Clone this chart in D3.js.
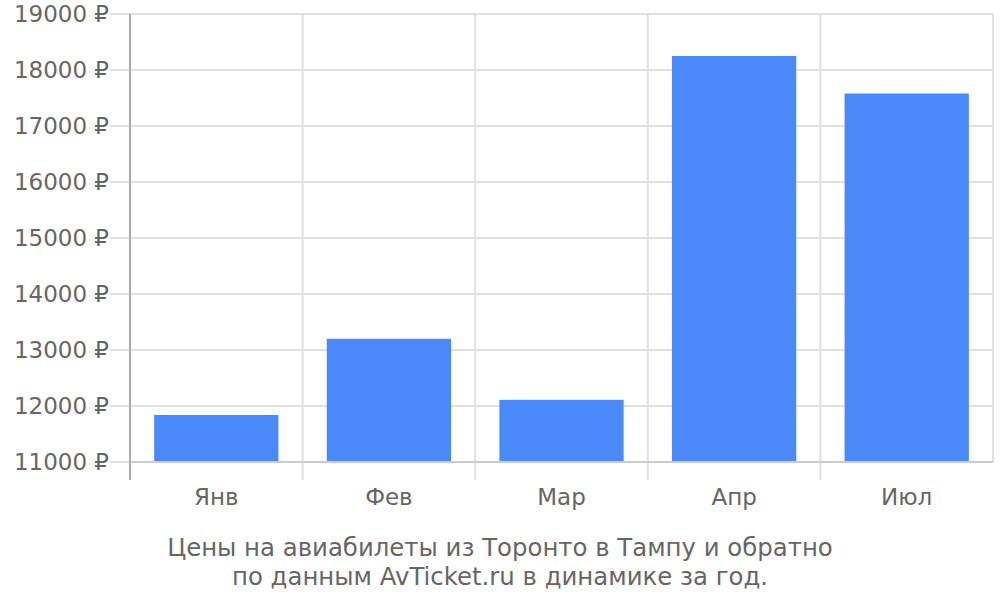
<!DOCTYPE html>
<html>
<head>
<meta charset="utf-8">
<script src="https://cdn.jsdelivr.net/npm/d3@7"></script>
<style>
  body { margin: 0; background: #fff; }
  text { font-family: "DejaVu Sans", sans-serif; fill: #666; }
</style>
</head>
<body>
<div id="chart"></div>
<script>
// Данные
var months = ["Янв", "Фев", "Мар", "Апр", "Июл"];
var prices = [11840, 13200, 12110, 18250, 17580];
var yTicks = [11000, 12000, 13000, 14000, 15000, 16000, 17000, 18000, 19000];
var titleLines = ["Цены на авиабилеты из Торонто в Тампу и обратно",
                  "по данным AvTicket.ru в динамике за год."];

var W = 1000, H = 600;
var plot = {left: 130, right: 993, top: 14, bottom: 462};

var svg = d3.select("#chart").append("svg")
  .attr("width", W).attr("height", H);

var x = d3.scaleBand()
  .domain(months)
  .range([plot.left, plot.right])
  .paddingInner(0.28)
  .paddingOuter(0.14);

var y = d3.scaleLinear()
  .domain([11000, 19000])
  .range([plot.bottom, plot.top]);

// горизонтальная сетка
svg.append("g")
  .selectAll("line")
  .data(yTicks)
  .enter().append("line")
    .attr("x1", plot.left - 20).attr("x2", plot.right)
    .attr("y1", function (d) { return y(d); })
    .attr("y2", function (d) { return y(d); })
    .attr("stroke", "#e0e0e0").attr("stroke-width", 2);

// вертикальные разделители категорий
var step = x.step();
var bounds = d3.range(months.length + 1).map(function (i) { return plot.left + i * step; });
svg.append("g")
  .selectAll("line")
  .data(bounds)
  .enter().append("line")
    .attr("x1", function (d) { return d; }).attr("x2", function (d) { return d; })
    .attr("y1", plot.top)
    .attr("y2", function (d, i) { return i === months.length ? plot.bottom : 480; })
    .attr("stroke", "#e0e0e0").attr("stroke-width", 2);

// столбцы
svg.append("g")
  .selectAll("rect")
  .data(prices)
  .enter().append("rect")
    .attr("x", function (d, i) { return x(months[i]); })
    .attr("width", x.bandwidth())
    .attr("y", function (d) { return y(d); })
    .attr("height", function (d) { return y(11000) - y(d); })
    .attr("fill", "#4b89fa");

// ось X
svg.append("line")
  .attr("x1", plot.left).attr("x2", plot.right)
  .attr("y1", plot.bottom).attr("y2", plot.bottom)
  .attr("stroke", "#cccccc").attr("stroke-width", 2);

// ось Y
svg.append("line")
  .attr("x1", plot.left).attr("x2", plot.left)
  .attr("y1", plot.top).attr("y2", 480)
  .attr("stroke", "#aaaaaa").attr("stroke-width", 2);

// подписи оси Y
svg.append("g")
  .selectAll("text")
  .data(yTicks)
  .enter().append("text")
    .attr("x", 109)
    .attr("y", function (d) { return y(d); })
    .attr("dy", "0.35em")
    .attr("text-anchor", "end")
    .style("font-size", "23px")
    .text(function (d) { return d + " ₽"; });

// подписи оси X
svg.append("g")
  .selectAll("text")
  .data(months)
  .enter().append("text")
    .attr("x", function (d) { return x(d) + x.bandwidth() / 2; })
    .attr("y", 497)
    .attr("dy", "0.35em")
    .attr("text-anchor", "middle")
    .style("font-size", "23px")
    .text(function (d) { return d; });

// заголовок снизу
svg.append("g")
  .selectAll("text")
  .data(titleLines)
  .enter().append("text")
    .attr("x", 500)
    .attr("y", function (d, i) { return 547 + i * 29; })
    .attr("dy", "0.35em")
    .attr("text-anchor", "middle")
    .style("font-size", "24.4px")
    .text(function (d) { return d; });
</script>
</body>
</html>
